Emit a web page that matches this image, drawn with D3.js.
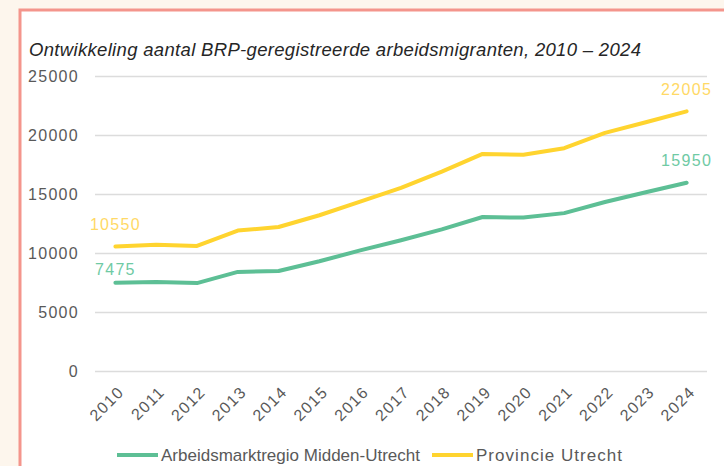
<!DOCTYPE html>
<html>
<head>
<meta charset="utf-8">
<script src="https://cdn.jsdelivr.net/npm/d3@7"></script>
<style>
  html, body { margin: 0; padding: 0; background: #fdf6ed; }
  svg { display: block; font-family: "Liberation Sans", Arial, sans-serif; }
</style>
</head>
<body>
<svg id="chart" width="724" height="466"></svg>
<script>
// data
var years = ["2010","2011","2012","2013","2014","2015","2016","2017","2018","2019","2020","2021","2022","2023","2024"];
var regio = [7475, 7550, 7450, 8400, 8470, 9300, 10220, 11080, 12000, 13050, 13000, 13380, 14320, 15150, 15950];
var provincie = [10550, 10700, 10600, 11900, 12200, 13200, 14350, 15520, 16900, 18400, 18330, 18880, 20180, 21080, 22005];
var yTicks = [0, 5000, 10000, 15000, 20000, 25000];
var seriesNames = ["Arbeidsmarktregio Midden-Utrecht", "Provincie Utrecht"];
var title = "Ontwikkeling aantal BRP-geregistreerde arbeidsmigranten, 2010 \u2013 2024";

var my = {
  svg: d3.select("#chart"),
  green: "#5dbf95", greenLbl: "#6fcaa4",
  yellow: "#ffd42f", yellowLbl: "#ffd966",
  txt: "#595959"
};

var svg = my.svg;

// cream page + white panel with salmon border
svg.append("rect").attr("width", 724).attr("height", 466).attr("fill", "#fdf6ed");
svg.append("rect").attr("x", 20).attr("y", 10).attr("width", 720).attr("height", 470)
  .attr("fill", "#fff").attr("stroke", "#f4958c").attr("stroke-width", 3);

var x = d3.scalePoint().domain(years).range([95, 707]).padding(0.5);
var y = d3.scaleLinear().domain([0, 25000]).range([371, 76]);

// gridlines + y labels
var yAxis = svg.append("g").attr("transform", "translate(95,0)")
  .call(d3.axisLeft(y).tickValues(yTicks).tickSize(-612).tickPadding(16).tickFormat(d3.format("d")));
yAxis.select(".domain").remove();
yAxis.selectAll(".tick line").attr("stroke", "#dcdcdc").attr("stroke-width", 1.5);
yAxis.selectAll(".tick text").attr("fill", my.txt).style("font-size", "16px").style("letter-spacing", "1.3px");

// x labels, rotated
var xAxis = svg.append("g").attr("transform", "translate(0,371)")
  .call(d3.axisBottom(x).tickSize(0));
xAxis.select(".domain").remove();
xAxis.selectAll(".tick text")
  .attr("fill", my.txt).style("font-size", "16px").style("letter-spacing", "1.3px")
  .attr("text-anchor", "end")
  .attr("dy", "0.35em")
  .attr("transform", "translate(3,16) rotate(-45)");

// lines
var line = d3.line().x(function(d, i){ return x(years[i]); }).y(function(d){ return y(d); });
[[regio, my.green], [provincie, my.yellow]].forEach(function(s){
  svg.append("path").datum(s[0]).attr("d", line)
    .attr("fill", "none").attr("stroke", s[1]).attr("stroke-width", 4)
    .attr("stroke-linejoin", "round").attr("stroke-linecap", "round");
});

// data labels at first and last points
var labels = [
  {v: provincie[0], yr: years[0], c: my.yellowLbl, dy: -17},
  {v: regio[0], yr: years[0], c: my.greenLbl, dy: -8},
  {v: provincie[14], yr: years[14], c: my.yellowLbl, dy: -16},
  {v: regio[14], yr: years[14], c: my.greenLbl, dy: -17}
];
svg.selectAll(".dlabel").data(labels).enter().append("text")
  .attr("class", "dlabel")
  .attr("x", function(d){ return x(d.yr); })
  .attr("y", function(d){ return y(d.v) + d.dy; })
  .attr("text-anchor", "middle")
  .attr("fill", function(d){ return d.c; })
  .style("font-size", "16px").style("letter-spacing", "1.3px")
  .text(function(d){ return d.v; });

// title
svg.append("text").attr("x", 29).attr("y", 56)
  .attr("fill", "#262626").style("font-size", "18.5px").style("font-style", "italic")
  .attr("textLength", 612).attr("lengthAdjust", "spacing")
  .text(title);

// legend
var legend = [
  {name: seriesNames[0], c: my.green, x0: 117, w: 259},
  {name: seriesNames[1], c: my.yellow, x0: 432, w: 146}
];
var lg = svg.selectAll(".leg").data(legend).enter().append("g").attr("class", "leg")
  .attr("transform", function(d){ return "translate(" + d.x0 + ",455)"; });
lg.append("line").attr("x1", 0).attr("x2", 41).attr("stroke", function(d){ return d.c; }).attr("stroke-width", 4);
lg.append("text").attr("x", 44).attr("dy", "0.35em").attr("fill", my.txt)
  .style("font-size", "17px")
  .attr("textLength", function(d){ return d.w; }).attr("lengthAdjust", "spacing")
  .text(function(d){ return d.name; });
</script>
</body>
</html>
